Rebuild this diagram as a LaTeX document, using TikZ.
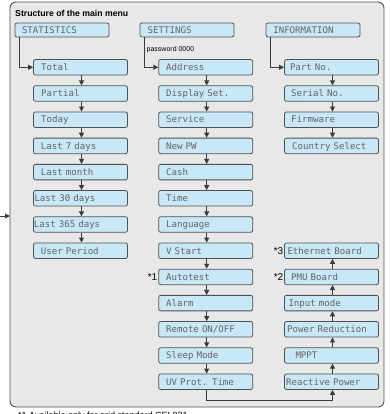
\documentclass[tikz,border=0pt]{standalone}
\usepackage{fontspec}
\setmainfont{Liberation Sans}
\newfontfamily\lcdfont{DejaVu Sans Mono}
\usetikzlibrary{arrows.meta}
\definecolor{framefill}{HTML}{E8E8E8}
\definecolor{frameline}{HTML}{505050}
\definecolor{boxfill}{HTML}{C8E8F8}
\definecolor{boxline}{HTML}{505050}
\definecolor{lcdtext}{HTML}{636363}
\definecolor{arrowcol}{HTML}{3C3C3C}
\begin{document}
\begin{tikzpicture}[x=1pt,y=-1pt,
  of/.code={\def\txoff{#1}},
  box/.style={draw=boxline, fill=boxfill, line width=0.8pt, rounded corners=2pt,
    inner xsep=0pt, inner ysep=0pt, text width=94pt, align=left,
    text height=6.6pt, text depth=0pt,
    font=\lcdfont\fontsize{9.1}{10}\selectfont, text=lcdtext,
    execute at begin node={\hspace*{\txoff}}, of=7.4pt},
  hdr/.style={box, minimum height=14pt},
  sub/.style={box, minimum height=15.5pt},
  arr/.style={draw=arrowcol, line width=0.9pt, -{Triangle[length=5pt,width=5pt]}},
  star/.style={anchor=east, inner sep=0pt, font=\fontsize{10}{12}\selectfont, text=black},
  ]
\useasboundingbox (0,0) rectangle (389,414);
% frame
\draw[draw=frameline, fill=framefill, line width=0.9pt, rounded corners=6pt] (10,2) rectangle (384,407);
\node[anchor=base west, inner sep=0pt, font=\bfseries\fontsize{8.7}{10}\selectfont] (title) at (15,17) {Structure of the main menu};

% headers
\node[hdr, of=7pt] (stat) at (62,30) {STATISTICS};
\node[hdr, of=7.7pt] (sett) at (187,30) {SETTINGS};
\node[hdr, of=7.3pt] (info) at (313,30) {INFORMATION};

% statistics column
\node[sub, of=7.7pt] (s0) at (80.5,67.3) {Total};
\node[sub, of=7.7pt] (s1) at (80.5,93.5) {Partial};
\node[sub, of=7.7pt] (s2) at (80.5,119.7) {Today};
\node[sub] (s3) at (80.5,145.9) {Last 7 days};
\node[sub] (s4) at (80.5,172.1) {Last month};
\node[sub, of=1pt] (s5) at (80.5,198.3) {Last 30 days};
\node[sub, of=0.4pt] (s6) at (80.5,224.5) {Last 365 days};
\node[sub] (s7) at (80.5,250.7) {User Period};

% settings column
\node[sub] (t0) at (205.7,67.3) {Address};
\node[sub] (t1) at (205.7,93.5) {Display Set.};
\node[sub] (t2) at (205.7,119.7) {Service};
\node[sub] (t3) at (205.7,145.9) {New PW};
\node[sub] (t4) at (205.7,172.1) {Cash};
\node[sub] (t5) at (205.7,198.3) {Time};
\node[sub] (t6) at (205.7,224.5) {Language};
\node[sub] (t7) at (205.7,250.7) {V Start};
\node[sub] (t8) at (205.7,276.9) {Autotest};
\node[sub] (t9) at (205.7,303.1) {Alarm};
\node[sub] (t10) at (205.7,329.3) {Remote ON/OFF};
\node[sub] (t11) at (205.7,355.5) {Sleep Mode};
\node[sub] (t12) at (205.7,381.7) {UV Prot. Time};

% information column
\node[sub, of=5.5pt] (i0) at (331.5,67.3) {Part No.};
\node[sub, of=6.7pt] (i1) at (331.5,93.5) {Serial No.};
\node[sub, of=6.7pt] (i2) at (331.5,119.7) {Firmware};
\node[sub, of=7.7pt] (i3) at (331.5,145.9) {Country Select};
\node[sub, of=3pt] (i7) at (331.5,250.7) {Ethernet Board};
\node[sub, of=6.7pt] (i8) at (331.5,276.9) {PMU Board};
\node[sub, of=4pt] (i9) at (331.5,303.1) {Input mode};
\node[sub, of=2.7pt] (i10) at (331.5,329.3) {Power Reduction};
\node[sub, of=11pt] (i11) at (331.5,355.5) {MPPT};
\node[sub, of=1.7pt] (i12) at (331.5,381.7) {Reactive Power};

% labels
\node[anchor=west, inner sep=0pt, font=\fontsize{7}{8}\selectfont] (pw) at (146.5,49.5) {password 0000};
\node[star] (n1) at (157.5,276.9) {*1};
\node[star] (n2) at (283.5,276.9) {*2};
\node[star] (n3) at (283.5,250.7) {*3};
\node[anchor=base west, inner sep=0pt, font=\fontsize{9}{10}\selectfont] (foot) at (18,418) {*1 Available only for grid standard CEI 021};

% header connectors
\draw[arr] ([xshift=5pt]stat.south west) |- (s0.west);
\draw[arr] ([xshift=5pt]sett.south west) |- (t0.west);
\draw[arr] ([xshift=5pt]info.south west) |- (i0.west);

% downward arrows
\foreach \a/\b in {s0/s1,s1/s2,s2/s3,s3/s4,s4/s5,s5/s6,s6/s7,
  t0/t1,t1/t2,t2/t3,t3/t4,t4/t5,t5/t6,t6/t7,t7/t8,t8/t9,t9/t10,t10/t11,t11/t12,
  i0/i1,i1/i2,i2/i3}
  {\draw[arr] ([xshift=1pt]\a.south) -- ([xshift=1pt]\b.north);}
% upward arrows
\foreach \a/\b in {i12/i11,i11/i10,i10/i9,i9/i8,i8/i7}
  {\draw[arr] ([xshift=1pt]\a.north) -- ([xshift=1pt]\b.south);}

% loop from UV Prot. Time to Reactive Power
\coordinate (lowrail) at (0,400);
\coordinate (uvb) at ([xshift=1pt]t12.south);
\coordinate (rpb) at ([xshift=1pt]i12.south);
\draw[arr] (uvb) -- (uvb |- lowrail) -- (rpb |- lowrail) -- (rpb);

% incoming arrow on the left
\coordinate (inl) at (0,216);
\coordinate (inr) at (10,216);
\draw[arr] (inl) -- (inr);
\end{tikzpicture}
\end{document}
